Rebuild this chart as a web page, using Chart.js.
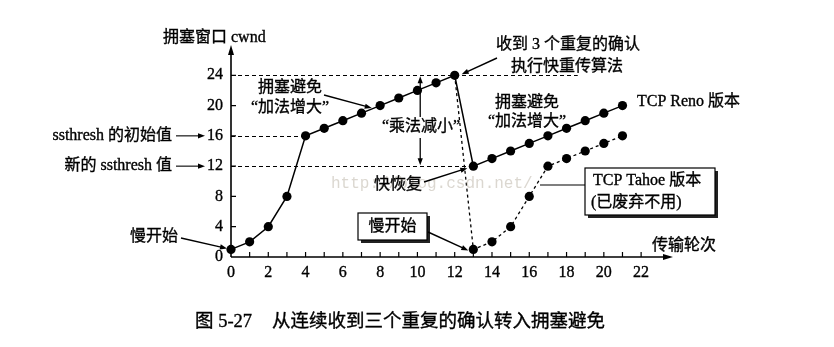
<!DOCTYPE html>
<html>
<head>
<meta charset="utf-8">
<script src="https://cdn.jsdelivr.net/npm/chart.js@4/dist/chart.umd.min.js"></script>
<style>
  html, body { margin: 0; padding: 0; background: #fff; }
  #wrap { width: 834px; height: 347px; }
</style>
</head>
<body>
<div id="wrap"><canvas id="c" width="834" height="347"></canvas></div>
<script>
// Transmission rounds and congestion window sizes
const rounds = [0, 1, 2, 3, 4, 5, 6, 7, 8, 9, 10, 11, 12, 13, 14, 15, 16, 17, 18, 19, 20, 21];
const renoCwnd = [1, 2, 4, 8, 16, 17, 18, 19, 20, 21, 22, 23, 24, 12, 13, 14, 15, 16, 17, 18, 19, 20];
const tahoeRounds = [12, 13, 14, 15, 16, 17, 18, 19, 20, 21];
const tahoeCwnd = [24, 1, 2, 4, 8, 12, 13, 14, 15, 16];

// Axis tick labels
const xTickLabels = [0, 2, 4, 6, 8, 10, 12, 14, 16, 18, 20, 22];
const yTickLabels = [0, 4, 8, 12, 16, 20, 24];

// Thresholds marked on the vertical axis
const ssthreshInit = 16;
const ssthreshNew = 12;
const peakCwnd = 24;

const SERIF = '"Liberation Serif", "Noto Sans CJK SC", serif';
const font = (px) => `${px}px ${SERIF}`;

function arrowHead(ctx, x1, y1, x2, y2, len = 7, half = 2.6) {
  const a = Math.atan2(y2 - y1, x2 - x1);
  ctx.beginPath();
  ctx.moveTo(x2, y2);
  ctx.lineTo(x2 - len * Math.cos(a) + half * Math.sin(a), y2 - len * Math.sin(a) - half * Math.cos(a));
  ctx.lineTo(x2 - len * Math.cos(a) - half * Math.sin(a), y2 - len * Math.sin(a) + half * Math.cos(a));
  ctx.closePath();
  ctx.fill();
}

function arrow(ctx, x1, y1, x2, y2, w = 1.4) {
  const a = Math.atan2(y2 - y1, x2 - x1);
  ctx.lineWidth = w;
  ctx.beginPath();
  ctx.moveTo(x1, y1);
  ctx.lineTo(x2 - 5 * Math.cos(a), y2 - 5 * Math.sin(a));
  ctx.stroke();
  arrowHead(ctx, x1, y1, x2, y2);
}

// Printed-looking text: a fill plus a hairline stroke for a slightly heavier face
function text(ctx, str, x, y, size, align = 'left') {
  ctx.font = font(size);
  ctx.textAlign = align;
  ctx.textBaseline = 'middle';
  ctx.fillText(str, x, y);
  ctx.lineWidth = 0.35;
  ctx.strokeText(str, x, y);
}

function shadowBox(ctx, x, y, w, h) {
  ctx.fillStyle = '#222';
  ctx.fillRect(x + 3, y + 3, w, h);
  ctx.fillStyle = '#fff';
  ctx.fillRect(x, y, w, h);
  ctx.lineWidth = 1.2;
  ctx.strokeStyle = '#000';
  ctx.strokeRect(x, y, w, h);
  ctx.fillStyle = '#000';
}

const figurePlugin = {
  id: 'figure',
  beforeDatasetsDraw(chart) {
    const { ctx, chartArea, scales: { x, y } } = chart;
    const x0 = x.getPixelForValue(0);
    const y0 = y.getPixelForValue(0);
    ctx.save();
    ctx.strokeStyle = '#000';
    ctx.fillStyle = '#000';

    // dashed guide lines for the peak window and both thresholds
    ctx.lineWidth = 1;
    ctx.setLineDash([4, 3]);
    const guides = [[peakCwnd, 18.6], [ssthreshInit, 4], [ssthreshNew, 13]];
    guides.forEach(([v, toRound]) => {
      const py = Math.round(y.getPixelForValue(v)) + 0.5;
      ctx.beginPath();
      ctx.moveTo(x0, py);
      ctx.lineTo(x.getPixelForValue(toRound), py);
      ctx.stroke();
    });
    ctx.setLineDash([]);

    // axes with arrowheads
    ctx.lineWidth = 1.6;
    ctx.beginPath();
    ctx.moveTo(x0, y0);
    ctx.lineTo(chartArea.right - 4, y0);
    ctx.moveTo(x0, y0);
    ctx.lineTo(x0, chartArea.top + 4);
    ctx.stroke();
    arrowHead(ctx, x0, y0, chartArea.right, y0, 10, 3);
    arrowHead(ctx, x0, y0, x0, chartArea.top, 10, 3);

    // tick marks: every round on x, every tick label on y
    ctx.lineWidth = 1.2;
    ctx.beginPath();
    for (let r = 1; r <= 22; r++) {
      const px = x.getPixelForValue(r);
      ctx.moveTo(px, y0);
      ctx.lineTo(px, y0 - 5);
    }
    yTickLabels.forEach(v => {
      if (v === 0) return;
      const py = y.getPixelForValue(v);
      ctx.moveTo(x0, py);
      ctx.lineTo(x0 + 5, py);
    });
    ctx.stroke();

    // tick labels
    ctx.fillStyle = '#000';
    x.ticks.forEach(t => text(ctx, String(t.value), x.getPixelForValue(t.value), y0 + 16, 16, 'center'));
    y.ticks.forEach(t => text(ctx, String(t.value), x0 - 8, y.getPixelForValue(t.value), 16, 'right'));
    ctx.restore();
  },
  afterDatasetsDraw(chart) {
    const { ctx, scales: { x, y } } = chart;
    const x0 = x.getPixelForValue(0);
    ctx.save();
    ctx.fillStyle = '#000';
    ctx.strokeStyle = '#000';

    // watermark
    ctx.font = '16px "Liberation Mono", monospace';
    ctx.fillStyle = 'rgba(190,182,170,0.55)';
    ctx.textAlign = 'left';
    ctx.textBaseline = 'middle';
    ctx.fillText('http://blog.csdn.net/', 331, 184);
    ctx.fillStyle = '#000';

    // axis titles
    text(ctx, '拥塞窗口 cwnd', 163, 38, 16);
    text(ctx, '传输轮次', 652, 246, 16);

    // threshold labels with arrows to the y-axis
    const py16 = y.getPixelForValue(ssthreshInit);
    const py12 = y.getPixelForValue(ssthreshNew);
    text(ctx, 'ssthresh 的初始值', 172, py16, 16, 'right');
    arrow(ctx, 176, py16, x0 - 26, py16, 1.1);
    text(ctx, '新的 ssthresh 值', 172, py12, 16, 'right');
    arrow(ctx, 176, py12, x0 - 26, py12, 1.1);

    // slow start on the left
    text(ctx, '慢开始', 178, 237, 16, 'right');
    arrow(ctx, 181, 238, x0 - 4, y.getPixelForValue(1) - 1);

    // congestion avoidance (first phase)
    text(ctx, '拥塞避免', 290, 88, 16, 'center');
    text(ctx, '“加法增大”', 290, 108, 16, 'center');
    arrow(ctx, 324, 95, x.getPixelForValue(7.55), y.getPixelForValue(19.55) - 1);

    // three duplicate ACKs
    const pkX = x.getPixelForValue(12), pkY = y.getPixelForValue(peakCwnd);
    text(ctx, '收到 3 个重复的确认', 568, 45, 16, 'center');
    text(ctx, '执行快重传算法', 567, 67, 16, 'center');
    arrow(ctx, 497, 58, pkX + 7, pkY - 1);

    // multiplicative decrease: double arrow between 24 and 12
    const mdX = x.getPixelForValue(10.15);
    text(ctx, '“乘法减小”', 421, 127, 16, 'center');
    arrow(ctx, mdX, 117, mdX, pkY + 1, 1.3);
    arrow(ctx, mdX, 138, mdX, py12 - 1, 1.3);

    // congestion avoidance (Reno after recovery)
    text(ctx, '拥塞避免', 527, 103, 16, 'center');
    text(ctx, '“加法增大”', 527, 122, 16, 'center');
    text(ctx, 'TCP Reno 版本', 637, 102, 16);

    // fast recovery
    text(ctx, '快恢复', 398, 185, 16, 'center');
    arrow(ctx, 424, 182, x.getPixelForValue(13) - 6, py12 + 2);

    // slow start box for Tahoe
    shadowBox(ctx, 358, 213, 69, 27);
    text(ctx, '慢开始', 392.5, 227, 16, 'center');
    arrow(ctx, 428, 232, x.getPixelForValue(13) - 5, y.getPixelForValue(1) + 1);

    // Tahoe label box
    ctx.lineWidth = 1.1;
    ctx.beginPath();
    ctx.moveTo(540, 185);
    ctx.lineTo(585, 185);
    ctx.stroke();
    shadowBox(ctx, 585, 168, 130, 47);
    text(ctx, 'TCP Tahoe 版本', 593, 181, 16);
    text(ctx, '(已废弃不用)', 591, 203, 16);

    // caption
    text(ctx, '图 5-27', 195, 322, 18.5);
    text(ctx, '从连续收到三个重复的确认转入拥塞避免', 272, 322, 18.5);
    ctx.restore();
  }
};

new Chart(document.getElementById('c'), {
  type: 'line',
  data: {
    datasets: [
      {
        label: 'TCP Tahoe',
        data: tahoeRounds.map((r, i) => ({ x: r, y: tahoeCwnd[i] })),
        borderColor: '#000',
        borderWidth: 1.3,
        borderDash: [3, 3],
        pointRadius: tahoeRounds.map((r, i) => (i === 0 ? 0 : 4.6)),
        pointBackgroundColor: '#000',
        pointBorderWidth: 0,
        tension: 0,
        clip: false
      },
      {
        label: 'TCP Reno',
        data: rounds.map((r, i) => ({ x: r, y: renoCwnd[i] })),
        borderColor: '#000',
        borderWidth: 1.5,
        pointRadius: 4.6,
        pointBackgroundColor: '#000',
        pointBorderWidth: 0,
        tension: 0,
        clip: false
      }
    ]
  },
  options: {
    responsive: false,
    devicePixelRatio: 1,
    animation: false,
    events: [],
    layout: { padding: { left: 231, right: 161, top: 45, bottom: 90 } },
    plugins: { legend: { display: false }, tooltip: { enabled: false } },
    scales: {
      x: {
        type: 'linear', min: 0, max: 23.71, display: false,
        afterBuildTicks: (s) => { s.ticks = xTickLabels.map(v => ({ value: v })); }
      },
      y: {
        type: 'linear', min: 0, max: 28, display: false,
        afterBuildTicks: (s) => { s.ticks = yTickLabels.map(v => ({ value: v })); }
      }
    }
  },
  plugins: [figurePlugin]
});
</script>
</body>
</html>
